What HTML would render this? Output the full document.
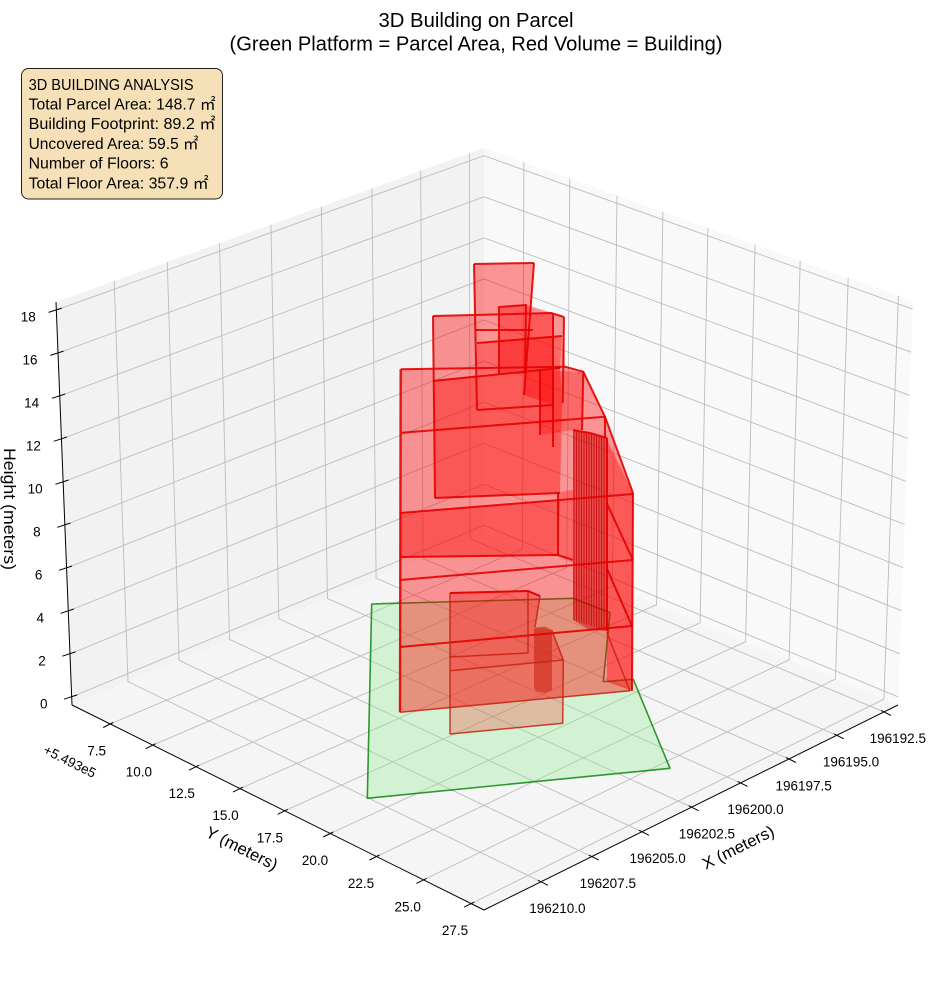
<!DOCTYPE html>
<html><head><meta charset="utf-8">
<style>
html,body{margin:0;padding:0;background:#fff}
svg{display:block}
text{font-family:"Liberation Sans","Noto Sans CJK JP",sans-serif;fill:#000}
</style></head>
<body>
<svg width="944" height="992" viewBox="0 0 944 992" xmlns="http://www.w3.org/2000/svg">
<rect width="944" height="992" fill="#fff"/>

<!-- panes -->
<polygon points="72,705 56,302 484,148 484,533" fill="#f2f2f2"/>
<polygon points="484,533 484,148 913,301 898,705" fill="#f9f9f9"/>
<polygon points="72,705 484,533 898,705 484,910" fill="#f5f5f5"/>

<!-- grid -->
<g fill="none" stroke="#bcbcbc" stroke-width="0.9">
<polyline points="71.7,696.9 484,525.3 898.3,696.9"/>
<polyline points="70.0,653.9 484,484.2 899.9,653.8"/>
<polyline points="68.3,611.0 484,443.2 901.5,610.7"/>
<polyline points="66.6,568.0 484,402.1 903.1,567.6"/>
<polyline points="64.9,525.0 484,361.0 904.7,524.5"/>
<polyline points="63.1,482.0 484,320.0 906.3,481.5"/>
<polyline points="61.4,439.0 484,278.9 907.9,438.4"/>
<polyline points="59.7,396.0 484,237.8 909.5,395.3"/>
<polyline points="58.0,353.1 484,196.8 911.1,352.2"/>
<polyline points="56.3,310.1 484,155.7 912.7,309.1"/>

<polyline points="114.2,281.1 128.0,681.6 541,881.8"/>
<polyline points="167.3,262.0 179.1,660.3 591.8,856.6"/>
<polyline points="219.5,243.2 229.4,639.3 642,831.8"/>
<polyline points="270.9,224.7 278.8,618.7 691.6,807.2"/>
<polyline points="321.4,206.5 327.4,598.4 740.6,782.9"/>
<polyline points="371.9,188.3 376.1,578.1 789,759"/>
<polyline points="420.7,170.8 423.0,558.5 836.8,735.3"/>
<polyline points="469.4,153.2 470.0,538.8 884,711.9"/>

<polyline points="523.9,162.2 522.5,549.0 110.2,724.0"/>
<polyline points="569.8,178.6 566.8,567.4 152.7,745.2"/>
<polyline points="617.0,195.4 612.3,586.3 196.0,766.7"/>
<polyline points="662.9,211.8 656.6,604.7 240.0,788.6"/>
<polyline points="707.9,227.9 700.1,622.8 284.7,810.8"/>
<polyline points="755.1,244.7 745.6,641.7 330.2,833.5"/>
<polyline points="800.2,260.8 789.1,659.8 376.5,856.5"/>
<polyline points="848.2,277.9 835.5,679.0 423.5,879.9"/>
<polyline points="898.4,295.8 883.9,699.2 471.2,903.6"/>
</g>

<!-- axis lines -->
<g stroke="#000" stroke-width="1" fill="none">
<line x1="72" y1="705" x2="56" y2="302"/>
<line x1="72" y1="705" x2="484" y2="910"/>
<line x1="484" y1="910" x2="898" y2="705"/>
<!-- z ticks -->
<line x1="64.0" y1="699.2" x2="77.2" y2="694.9"/>
<line x1="62.3" y1="656.2" x2="75.5" y2="651.9"/>
<line x1="60.6" y1="613.3" x2="73.8" y2="609.0"/>
<line x1="58.9" y1="570.3" x2="72.1" y2="566.0"/>
<line x1="57.2" y1="527.3" x2="70.4" y2="523.0"/>
<line x1="55.4" y1="484.3" x2="68.6" y2="480.0"/>
<line x1="53.7" y1="441.3" x2="66.9" y2="437.0"/>
<line x1="52.0" y1="398.3" x2="65.2" y2="394.0"/>
<line x1="50.3" y1="355.4" x2="63.5" y2="351.1"/>
<line x1="48.6" y1="312.4" x2="61.8" y2="308.1"/>
<!-- y ticks -->
<line x1="103.2" y1="727.5" x2="113.2" y2="722.5"/>
<line x1="145.7" y1="748.7" x2="155.7" y2="743.7"/>
<line x1="189.0" y1="770.2" x2="199.0" y2="765.2"/>
<line x1="233.0" y1="792.1" x2="243.0" y2="787.1"/>
<line x1="277.7" y1="814.3" x2="287.7" y2="809.3"/>
<line x1="323.2" y1="837.0" x2="333.2" y2="832.0"/>
<line x1="369.5" y1="860.0" x2="379.5" y2="855.0"/>
<line x1="416.5" y1="883.4" x2="426.5" y2="878.4"/>
<line x1="464.2" y1="907.1" x2="474.2" y2="902.1"/>
<!-- x ticks -->
<line x1="538" y1="880.3" x2="548" y2="885.3"/>
<line x1="588.8" y1="855.1" x2="598.8" y2="860.1"/>
<line x1="639" y1="830.3" x2="649" y2="835.3"/>
<line x1="688.6" y1="805.7" x2="698.6" y2="810.7"/>
<line x1="737.6" y1="781.4" x2="747.6" y2="786.4"/>
<line x1="786" y1="757.5" x2="796" y2="762.5"/>
<line x1="833.8" y1="733.8" x2="843.8" y2="738.8"/>
<line x1="881" y1="710.4" x2="891" y2="715.4"/>
</g>

<!-- parcel -->
<polygon points="371.7,604 573.3,598.3 610,612.7 603.3,681.7 633.3,679.3 670,768.3 367.3,798.3" fill="#90ee90" fill-opacity="0.33" stroke="#008000" stroke-opacity="0.8" stroke-width="1.6" stroke-linejoin="round"/>

<!-- building fills -->
<g fill="#ff0000" stroke="none">
<polygon fill-opacity="0.4" points="400.7,369.3 433,369 433,316 474,315.6 474,264 534,263 530,313 551,313 564,317 565,366.7 583.3,371.7 605,416.7 633,493 632,690.7 400,712.3"/>
<polygon fill-opacity="0.22" points="450,670.7 563.3,660 562.7,723.3 450,734"/>
<polygon fill-opacity="0.3" points="450,593 528,591 540,596 535,627 551.7,630 563.3,660 450,670.7"/>
<polygon fill-opacity="0.4" points="433,380 560,367 562,403 560,493 435,498"/>
<polygon fill-opacity="0.3" points="477,343 562,336 560,367 477,375"/>
<polygon fill-opacity="0.4" points="400,513 560,500 558,555 400,557"/>
<polygon fill-opacity="0.4" points="526,305 553,313 553,405 524,395"/>
<polygon fill-opacity="0.4" points="499,307 526,305 525,374 499,374"/>
<polygon fill-opacity="0.4" points="606,438 633,493 632,690.7 607,682"/>
<polygon fill-opacity="0.3" points="558,492 573,490 573,560 558,555"/>
<polygon fill-opacity="0.3" points="540,370 583,372 582,430 573,430 540,435"/>
<polygon fill="#d80000" fill-opacity="0.5" points="573,430 590,433 607,438 607,631 590,630 573,620"/>
<polygon fill="#cc2414" fill-opacity="0.6" points="534,628 545,626.5 552,630 552,690 545,693 536,691 534,688"/>
</g>

<!-- comb lines -->
<g stroke="#c00000" stroke-width="1" stroke-opacity="0.7">
<line x1="574" y1="430.2" x2="574" y2="620.3"/>
<line x1="576.5" y1="430.8" x2="576.5" y2="621.1"/>
<line x1="579" y1="431.4" x2="579" y2="621.9"/>
<line x1="581.5" y1="432.0" x2="581.5" y2="622.8"/>
<line x1="584" y1="432.6" x2="584" y2="623.6"/>
<line x1="586.5" y1="433.2" x2="586.5" y2="624.4"/>
<line x1="589" y1="433.8" x2="589" y2="625.2"/>
<line x1="591.5" y1="434.4" x2="591.5" y2="626.0"/>
<line x1="594" y1="434.9" x2="594" y2="626.8"/>
<line x1="596.5" y1="435.5" x2="596.5" y2="627.6"/>
<line x1="599" y1="436.1" x2="599" y2="628.4"/>
<line x1="601.5" y1="436.7" x2="601.5" y2="629.2"/>
<line x1="604" y1="437.3" x2="604" y2="630.0"/>
<line x1="606.5" y1="437.9" x2="606.5" y2="630.8"/>
</g>

<!-- building edges (upper) -->
<g fill="none" stroke="#e60000" stroke-width="2" stroke-opacity="0.9" stroke-linejoin="round">
<polyline points="474,264 534,263"/>
<polyline points="474,264 477,410"/>
<polyline points="534,263 524,395"/>
<polyline points="476,330 533,330"/>
<polyline points="477,343 562,336"/>
<polyline points="477,410 553,405"/>
<polyline points="499,374 499,307 526,305 525,374"/>
<polyline points="433,316 551,313 564,317"/>
<polyline points="553,313 553,447"/>
<polyline points="564,317 562.7,403"/>
<polyline points="433,316 435,498"/>
<polyline points="433,381 560,368"/>
<polyline points="400.7,369.3 565,366.7 583.3,371.7 605,416.7 633,493"/>
<polyline points="583.3,371.7 582,430"/>
<polyline points="605,416.7 605,437"/>
<polyline points="401.7,432.7 605,416.7"/>
<polyline points="540,370 540,435"/>
<polyline points="573,430 590,433 607,438"/>
<polyline points="400.7,369.3 400,712.3" stroke-width="2.4"/>
<polyline points="400,513 633,494"/>
<polyline points="435,498 560,493"/>
<polyline points="558,492 558,555"/>
<polyline points="400,557 558,555 573,560"/>
<polyline points="633,493 632,690.7"/>
<polyline points="606.7,503 633,560"/>
<polyline points="400,580 633,560"/>
<polyline points="606.7,568 632,626"/>
<polyline points="400,647 632,626"/>
<polyline points="607,438 607,631"/>
</g>
<!-- building edges (lower) -->
<g fill="none" stroke="#c8200f" stroke-width="1.5" stroke-opacity="0.85" stroke-linejoin="round">
<polyline points="400,712.3 630,690.7"/>
<polyline points="606.7,632 630,691"/>
<polyline points="450,593 528,591 540,596 535,627"/>
<polyline points="450,593 450,734"/>
<polyline points="528,591 528,653"/>
<polyline points="450,657 528,653"/>
<polyline points="450,670.7 563.3,660 562.7,723.3 450,734"/>
<polyline points="551.7,630 563.3,660"/>
</g>
<g fill="none" stroke="#e60000" stroke-width="2" stroke-opacity="0.9">
<polyline points="450,593 528,591 540,596"/>
</g>

<!-- tick labels -->
<g font-size="13.5" text-anchor="middle">
<text x="43.7" y="708.4">0</text>
<text x="42.0" y="665.4">2</text>
<text x="40.3" y="622.5">4</text>
<text x="38.6" y="579.5">6</text>
<text x="36.9" y="536.5">8</text>
<text x="35.1" y="493.5">10</text>
<text x="33.4" y="450.5">12</text>
<text x="31.7" y="407.5">14</text>
<text x="30.0" y="364.6">16</text>
<text x="28.3" y="321.6">18</text>

<text x="96.7" y="755.5">7.5</text>
<text x="138.9" y="776.7">10.0</text>
<text x="181.8" y="798.2">12.5</text>
<text x="225.5" y="820.1">15.0</text>
<text x="269.9" y="842.3">17.5</text>
<text x="315.0" y="865.0">20.0</text>
<text x="361.0" y="888.0">22.5</text>
<text x="407.7" y="911.4">25.0</text>
<text x="455.0" y="935.1">27.5</text>

<text x="557.4" y="913.1">196210.0</text>
<text x="607.8" y="887.9">196207.5</text>
<text x="657.6" y="863.1">196205.0</text>
<text x="706.9" y="838.5">196202.5</text>
<text x="755.5" y="814.2">196200.0</text>
<text x="803.6" y="790.3">196197.5</text>
<text x="851.0" y="766.6">196195.0</text>
<text x="897.8" y="743.2">196192.5</text>
</g>

<text x="70" y="766" font-size="13.5" text-anchor="middle" transform="rotate(26.5 70 761)">+5.493e5</text>

<!-- axis labels -->
<text x="242" y="854" font-size="16.5" text-anchor="middle" textLength="78" lengthAdjust="spacingAndGlyphs" transform="rotate(26.5 242 848)">Y (meters)</text>
<text x="738" y="853" font-size="16.5" text-anchor="middle" textLength="78" lengthAdjust="spacingAndGlyphs" transform="rotate(-26.5 738 847)">X (meters)</text>
<text x="4" y="509" font-size="16.5" text-anchor="middle" textLength="122" lengthAdjust="spacingAndGlyphs" transform="rotate(90 4 509)">Height (meters)</text>

<!-- title -->
<text x="476" y="27" font-size="20" text-anchor="middle" textLength="195" lengthAdjust="spacingAndGlyphs">3D Building on Parcel</text>
<text x="476" y="50.5" font-size="20" text-anchor="middle" textLength="493" lengthAdjust="spacingAndGlyphs">(Green Platform = Parcel Area, Red Volume = Building)</text>

<!-- info box -->
<rect x="21.5" y="68.5" width="201" height="130.5" rx="7" ry="7" fill="#f6e0b8" stroke="#222" stroke-width="1"/>
<g font-size="15.5">
<text x="28.6" y="89.8" textLength="165" lengthAdjust="spacingAndGlyphs">3D BUILDING ANALYSIS</text>
<text x="28.6" y="109.5" textLength="187" lengthAdjust="spacingAndGlyphs">Total Parcel Area: 148.7 ㎡</text>
<text x="28.6" y="129.2" textLength="187" lengthAdjust="spacingAndGlyphs">Building Footprint: 89.2 ㎡</text>
<text x="28.6" y="148.9" textLength="170" lengthAdjust="spacingAndGlyphs">Uncovered Area: 59.5 ㎡</text>
<text x="28.6" y="168.6" textLength="140" lengthAdjust="spacingAndGlyphs">Number of Floors: 6</text>
<text x="28.6" y="188.3" textLength="180" lengthAdjust="spacingAndGlyphs">Total Floor Area: 357.9 ㎡</text>
</g>
</svg>
</body></html>
